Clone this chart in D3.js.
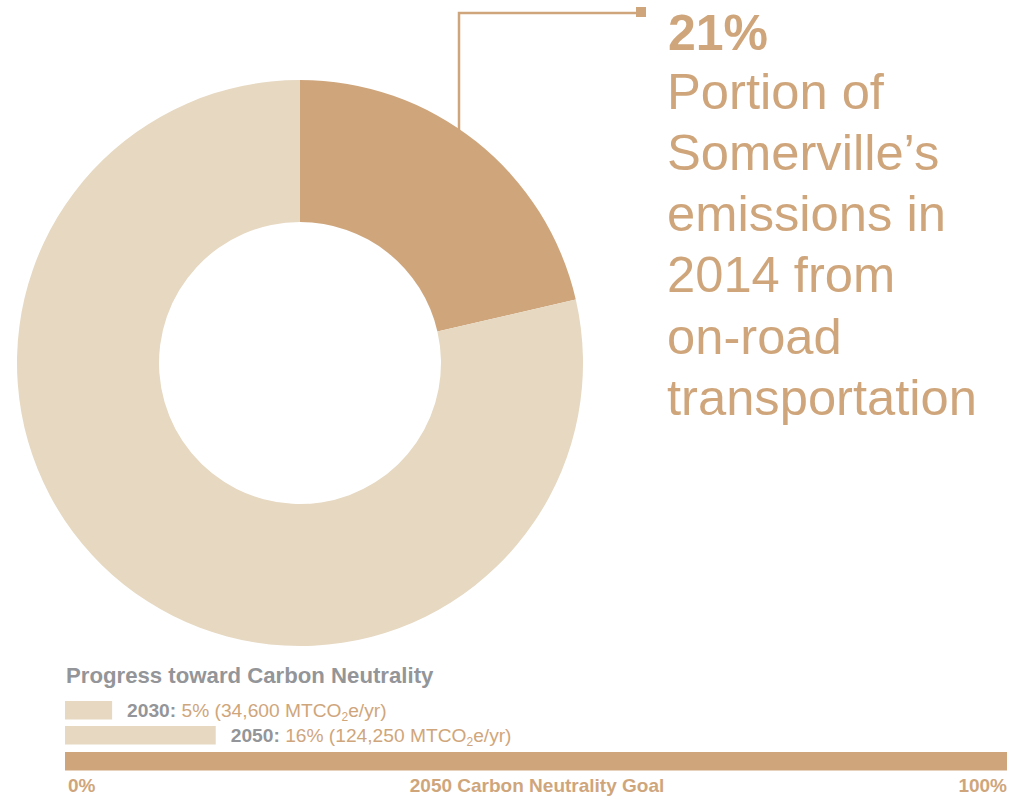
<!DOCTYPE html>
<html>
<head>
<meta charset="utf-8">
<script src="https://d3js.org/d3.v7.min.js"></script>
<style>
  body { margin: 0; background: #fff; }
  text { font-family: "Liberation Sans", Arial, sans-serif; }
</style>
</head>
<body>
<script>
// donut share: on-road transportation vs everything else
var sliceNames = ["On-road transportation", "Other"];
var sliceValues = [21.4, 78.6];

// progress bars (percent of 2050 goal)
var progressYears = ["2030", "2050"];
var progressPct = [5, 16];
var progressAmounts = ["34,600", "124,250"];
var goalLabels = ["0%", "2050 Carbon Neutrality Goal", "100%"];

var calloutLines = ["Portion of", "Somerville\u2019s", "emissions in", "2014 from", "on-road", "transportation"];

var dark = "#cfa67c", light = "#e6d8c1", grey = "#939598";
var w = 1016, h = 797;

var svg = d3.select("body").append("svg")
  .attr("width", w)
  .attr("height", h);

// ---- donut ----
var cx = 300, cy = 363, rOut = 283, rIn = 141;

var pie = d3.pie().sort(null).value(function(d) { return d; });
var arc = d3.arc().innerRadius(rIn).outerRadius(rOut);

var donut = svg.append("g").attr("transform", "translate(" + cx + "," + cy + ")");
donut.selectAll("path")
  .data(pie(sliceValues))
  .enter()
  .append("path")
  .attr("d", arc)
  .attr("fill", function(d, i) { return i == 0 ? dark : light; });

// leader line from the dark slice up to the label
var lineX = 459;
var lineY0 = cy - Math.sqrt(rOut * rOut - (lineX - cx) * (lineX - cx));
svg.append("path")
  .attr("d", "M" + lineX + "," + (lineY0 + 3) + "V13H638")
  .attr("fill", "none")
  .attr("stroke", dark)
  .attr("stroke-width", 2.5);
svg.append("rect")
  .attr("x", 636).attr("y", 7)
  .attr("width", 10).attr("height", 10)
  .attr("fill", dark);

svg.append("text")
  .attr("x", 668).attr("y", 50)
  .attr("font-size", 50)
  .attr("font-weight", "bold")
  .attr("fill", dark)
  .text(Math.round(sliceValues[0]) + "%");

svg.selectAll(".callout")
  .data(calloutLines)
  .enter()
  .append("text")
  .attr("class", "callout")
  .attr("x", 667)
  .attr("y", function(d, i) { return 108.5 + i * 61.3; })
  .attr("font-size", 50.7)
  .attr("fill", dark)
  .text(function(d) { return d; });

// ---- progress toward carbon neutrality ----
var x = d3.scaleLinear().domain([0, 100]).range([65, 1007]);

svg.append("text")
  .attr("x", 66).attr("y", 683)
  .attr("font-size", 22.2)
  .attr("font-weight", "bold")
  .attr("fill", grey)
  .text("Progress toward Carbon Neutrality");

var rows = svg.selectAll(".prog")
  .data(progressPct)
  .enter()
  .append("g")
  .attr("class", "prog")
  .attr("transform", function(d, i) { return "translate(0," + (701 + i * 25) + ")"; });

rows.append("rect")
  .attr("x", x(0))
  .attr("y", 0)
  .attr("width", function(d) { return x(d) - x(0); })
  .attr("height", 18.5)
  .attr("fill", light);

var lab = rows.append("text")
  .attr("x", function(d) { return x(d) + 15; })
  .attr("y", 15.5)
  .attr("font-size", 19.2);
lab.append("tspan")
  .attr("font-weight", "bold")
  .attr("fill", grey)
  .text(function(d, i) { return progressYears[i] + ": "; });
lab.append("tspan")
  .attr("fill", dark)
  .text(function(d, i) { return d + "% (" + progressAmounts[i] + " MTCO"; });
lab.append("tspan")
  .attr("fill", dark)
  .attr("font-size", 12)
  .attr("dy", 4)
  .text("2");
lab.append("tspan")
  .attr("fill", dark)
  .attr("dy", -4)
  .text("e/yr)");

// goal bar
svg.append("rect")
  .attr("x", x(0)).attr("y", 752)
  .attr("width", x(100) - x(0))
  .attr("height", 18.5)
  .attr("fill", dark);

var goalX = [x(0) + 3, (x(0) + x(100)) / 2 + 1, x(100)];
var goalAnchor = ["start", "middle", "end"];
svg.selectAll(".goal")
  .data(goalLabels)
  .enter()
  .append("text")
  .attr("class", "goal")
  .attr("x", function(d, i) { return goalX[i]; })
  .attr("y", 792)
  .attr("text-anchor", function(d, i) { return goalAnchor[i]; })
  .attr("font-size", 19)
  .attr("font-weight", "bold")
  .attr("fill", dark)
  .text(function(d) { return d; });
</script>
</body>
</html>
